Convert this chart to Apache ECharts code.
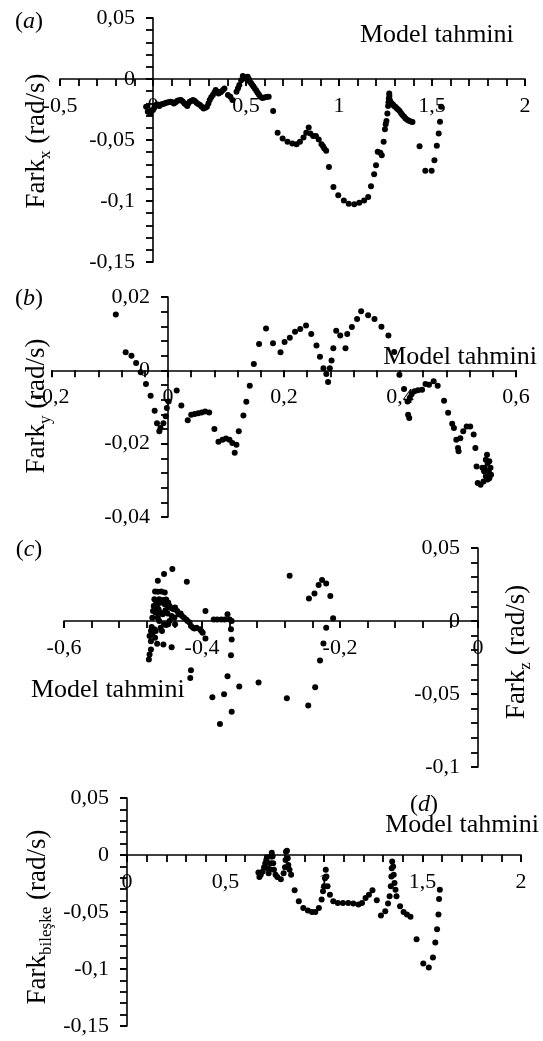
<!DOCTYPE html>
<html>
<head>
<meta charset="utf-8">
<script src="https://cdn.jsdelivr.net/npm/echarts@6/dist/echarts.min.js"></script>
<style>
  html, body { margin: 0; padding: 0; background: #fff; }
  #chart { width: 543px; height: 1041px; }
</style>
</head>
<body>
<div id="chart"></div>
<script>
// panel (a): model tahmini vs Fark_x
const pointsA = [
  [-0.037, -0.0227], [-0.028, -0.0268], [-0.015, -0.0282], [-0.008, -0.026], [0.0, -0.0255],
  [0.008, -0.023], [0.015, -0.0214], [0.025, -0.021], [0.034, -0.0222], [0.043, -0.021],
  [0.052, -0.0205], [0.062, -0.02], [0.071, -0.0195], [0.082, -0.019], [0.094, -0.0186],
  [0.103, -0.019], [0.112, -0.02], [0.122, -0.019], [0.131, -0.0178], [0.14, -0.0175],
  [0.15, -0.0173], [0.16, -0.0185], [0.169, -0.02], [0.177, -0.021], [0.184, -0.0222],
  [0.19, -0.02], [0.197, -0.0186], [0.206, -0.018], [0.215, -0.0173], [0.225, -0.018],
  [0.234, -0.0195], [0.243, -0.0205], [0.253, -0.0214], [0.262, -0.0228], [0.272, -0.0241],
  [0.281, -0.0235], [0.29, -0.0227], [0.298, -0.02], [0.305, -0.0173], [0.313, -0.015],
  [0.322, -0.0132], [0.33, -0.011], [0.337, -0.009], [0.345, -0.0105], [0.352, -0.0118],
  [0.36, -0.011], [0.367, -0.0104], [0.376, -0.009], [0.384, -0.0077], [0.403, -0.0132],
  [0.416, -0.0145], [0.427, -0.0173], [0.449, -0.0104], [0.457, -0.0075], [0.464, -0.0049],
  [0.474, -0.001], [0.483, 0.0025], [0.49, 0.001], [0.496, 0.0005], [0.503, 0.0015],
  [0.509, 0.0019], [0.515, 0.0], [0.521, -0.0022], [0.528, -0.0035], [0.534, -0.0049],
  [0.54, -0.0062], [0.547, -0.0077], [0.555, -0.0095], [0.562, -0.0112], [0.57, -0.013],
  [0.577, -0.0145], [0.588, -0.0155], [0.599, -0.0151], [0.61, -0.0148], [0.622, -0.0145],
  [0.646, -0.0263], [0.67, -0.0441], [0.697, -0.0488], [0.723, -0.0515], [0.749, -0.0529],
  [0.772, -0.0534], [0.79, -0.0515], [0.809, -0.0479], [0.824, -0.0441], [0.837, -0.0397],
  [0.846, -0.0447], [0.861, -0.0468], [0.876, -0.0468], [0.891, -0.0496], [0.906, -0.0534],
  [0.914, -0.0552], [0.921, -0.057], [0.931, -0.0589], [0.946, -0.0721], [0.97, -0.0885],
  [0.996, -0.0953], [1.026, -0.0995], [1.052, -0.1022], [1.082, -0.1027], [1.109, -0.1014],
  [1.135, -0.0995], [1.157, -0.0967], [1.172, -0.0879], [1.189, -0.0781], [1.199, -0.0707],
  [1.208, -0.0597], [1.222, -0.0605], [1.23, -0.0625], [1.24, -0.0515], [1.247, -0.0411],
  [1.251, -0.037], [1.255, -0.0345], [1.26, -0.0282], [1.264, -0.0222], [1.266, -0.019],
  [1.268, -0.0159], [1.27, -0.0118], [1.271, -0.014], [1.273, -0.0173], [1.278, -0.019],
  [1.283, -0.02], [1.29, -0.021], [1.296, -0.0222], [1.304, -0.023], [1.311, -0.0241],
  [1.318, -0.025], [1.326, -0.0263], [1.334, -0.028], [1.341, -0.0296], [1.35, -0.031],
  [1.358, -0.0323], [1.367, -0.0335], [1.376, -0.0342], [1.386, -0.0348], [1.395, -0.0353],
  [1.433, -0.0551], [1.464, -0.0753], [1.498, -0.0753], [1.513, -0.0666], [1.526, -0.0548],
  [1.536, -0.0447], [1.543, -0.0351], [1.549, -0.0227]
];

// panel (b): model tahmini vs Fark_y
const pointsB = [
  [-0.09, 0.0152], [-0.073, 0.0049], [-0.063, 0.004], [-0.055, 0.002], [-0.047, -0.0005],
  [-0.038, -0.0037], [-0.03, -0.0069], [-0.023, -0.011], [-0.019, -0.0144], [-0.015, -0.0166],
  [-0.013, -0.0157], [-0.008, -0.0144], [-0.004, -0.0125], [-0.002, -0.0103], [0.001, -0.0085],
  [0.015, -0.0055], [0.023, -0.0096], [0.034, -0.0136], [0.04, -0.0121], [0.046, -0.0119],
  [0.052, -0.0117], [0.058, -0.0115], [0.064, -0.0112], [0.071, -0.0115], [0.08, -0.016],
  [0.087, -0.0195], [0.094, -0.0189], [0.1, -0.0186], [0.106, -0.0189], [0.111, -0.0198],
  [0.115, -0.0225], [0.118, -0.0203], [0.122, -0.0166], [0.13, -0.0123], [0.135, -0.0086],
  [0.141, -0.0042], [0.148, 0.0017], [0.157, 0.0072], [0.169, 0.0114], [0.181, 0.0074],
  [0.194, 0.0049], [0.201, 0.0077], [0.21, 0.0089], [0.219, 0.0105], [0.228, 0.0113],
  [0.238, 0.0122], [0.247, 0.0099], [0.256, 0.0068], [0.262, 0.0037], [0.268, 0.0006],
  [0.273, -0.001], [0.276, -0.0032], [0.279, 0.0006], [0.282, 0.0027], [0.285, 0.006],
  [0.29, 0.0108], [0.297, 0.0095], [0.306, 0.006], [0.309, 0.0099], [0.317, 0.0118],
  [0.326, 0.014], [0.333, 0.0161], [0.345, 0.015], [0.356, 0.014], [0.368, 0.0119],
  [0.38, 0.0095], [0.39, 0.005], [0.399, -0.0012], [0.407, -0.0051], [0.413, -0.0085],
  [0.414, -0.0121], [0.416, -0.013], [0.417, -0.0075], [0.42, -0.0065], [0.425, -0.0057],
  [0.431, -0.0054], [0.438, -0.0053], [0.444, -0.0037], [0.45, -0.0039], [0.458, -0.003],
  [0.465, -0.0042], [0.476, -0.0083], [0.483, -0.0116], [0.49, -0.0146], [0.493, -0.0157],
  [0.497, -0.0189], [0.5, -0.0212], [0.501, -0.0221], [0.504, -0.0185], [0.509, -0.0166],
  [0.515, -0.0153], [0.521, -0.0153], [0.527, -0.0175], [0.53, -0.0212], [0.532, -0.0262],
  [0.534, -0.0307], [0.539, -0.0312], [0.544, -0.0303], [0.546, -0.0266], [0.548, -0.0244],
  [0.55, -0.023], [0.551, -0.0253], [0.553, -0.0275], [0.554, -0.0294], [0.557, -0.0285],
  [0.548, -0.0289], [0.545, -0.0275], [0.542, -0.0266], [0.551, -0.0298], [0.556, -0.0266],
  [0.554, -0.0248]
];

// panel (c): model tahmini vs Fark_z
const pointsC = [
  [-0.477, -0.0264], [-0.476, -0.023], [-0.474, -0.0195], [-0.474, -0.0138], [-0.476, -0.0103],
  [-0.474, -0.0069], [-0.473, -0.0041], [-0.472, 0.0023], [-0.471, 0.0069], [-0.47, 0.0103],
  [-0.469, 0.0149], [-0.468, 0.0202], [-0.464, 0.0276], [-0.455, 0.0322], [-0.443, 0.0356],
  [-0.422, 0.0269], [-0.464, 0.02], [-0.459, 0.0202], [-0.454, 0.0195], [-0.467, 0.0138],
  [-0.464, 0.0115], [-0.462, 0.0149], [-0.459, 0.0126], [-0.457, 0.0143], [-0.454, 0.0115],
  [-0.452, 0.0147], [-0.449, 0.0126], [-0.447, 0.0103], [-0.444, 0.0087], [-0.441, 0.008],
  [-0.439, 0.0092], [-0.436, 0.0069], [-0.434, 0.0046], [-0.431, 0.0051], [-0.429, 0.0034],
  [-0.426, 0.0023], [-0.423, 0.0011], [-0.421, 0.0], [-0.418, -0.0011], [-0.416, -0.0034],
  [-0.413, -0.0046], [-0.411, -0.0051], [-0.408, -0.0046], [-0.403, -0.0057], [-0.401, -0.0069],
  [-0.399, -0.008], [-0.395, -0.012], [-0.395, 0.0069], [-0.464, 0.0023], [-0.462, 0.0],
  [-0.46, -0.0046], [-0.458, -0.0069], [-0.455, -0.0023], [-0.452, -0.0028], [-0.449, -0.0023],
  [-0.447, 0.0], [-0.467, -0.0069], [-0.468, -0.0115], [-0.465, -0.0156], [-0.456, -0.0161],
  [-0.444, -0.0179], [-0.439, -0.0023], [-0.468, 0.008], [-0.467, 0.0057], [-0.463, 0.008],
  [-0.46, 0.0057], [-0.457, 0.0046], [-0.453, 0.0074], [-0.45, 0.0051], [-0.472, -0.0092],
  [-0.469, -0.0057], [-0.449, 0.0092], [-0.444, 0.0034], [-0.44, 0.0023],
  [-0.383, 0.0011], [-0.378, 0.0011], [-0.372, 0.0011], [-0.367, 0.0011], [-0.363, 0.0046],
  [-0.36, 0.0011], [-0.357, 0.0], [-0.358, -0.0057], [-0.357, -0.0126], [-0.358, -0.0234],
  [-0.357, -0.0621], [-0.363, -0.0379], [-0.368, -0.0501], [-0.374, -0.0706], [-0.385, -0.0522],
  [-0.416, -0.0338], [-0.417, -0.0391], [-0.346, -0.0448], [-0.318, -0.0421], [-0.277, -0.0529],
  [-0.273, 0.031], [-0.246, -0.0579], [-0.236, -0.0453], [-0.229, -0.0271], [-0.224, -0.0154],
  [-0.22, -0.0046], [-0.21, 0.0018], [-0.214, 0.0172], [-0.22, 0.0257], [-0.226, 0.028],
  [-0.231, 0.0246], [-0.237, 0.0189], [-0.245, 0.0154]
];

// panel (d): model tahmini vs Fark_bileske
const pointsD = [
  [0.667, -0.0154], [0.672, -0.0194], [0.679, -0.0174], [0.689, -0.0145], [0.696, -0.0107],
  [0.702, -0.0072], [0.707, -0.0043], [0.711, -0.002], [0.714, -0.0116], [0.719, -0.0159],
  [0.725, -0.0125], [0.728, -0.0072], [0.732, -0.0014], [0.735, 0.002], [0.739, -0.0014],
  [0.742, -0.0072], [0.746, -0.013], [0.754, -0.0174], [0.763, -0.0194], [0.781, -0.0212],
  [0.795, -0.0159], [0.802, -0.0107], [0.805, -0.0043], [0.807, 0.0029], [0.812, 0.0038],
  [0.816, -0.0029], [0.819, -0.0087], [0.825, -0.013], [0.833, -0.0174], [0.851, -0.031],
  [0.872, -0.0406], [0.895, -0.0464], [0.918, -0.0487], [0.939, -0.0499], [0.956, -0.0499],
  [0.974, -0.0464], [0.988, -0.0391], [0.995, -0.0319], [1.0, -0.0275], [1.005, -0.0203],
  [1.009, -0.013], [1.012, -0.0188], [1.018, -0.0275], [1.03, -0.0348], [1.047, -0.0406],
  [1.07, -0.042], [1.096, -0.042], [1.123, -0.042], [1.149, -0.0426], [1.175, -0.0435],
  [1.193, -0.042], [1.211, -0.0377], [1.228, -0.0348], [1.246, -0.031], [1.268, -0.0397],
  [1.289, -0.053], [1.311, -0.0493], [1.325, -0.0426], [1.333, -0.0362], [1.339, -0.0275],
  [1.342, -0.0188], [1.344, -0.0116], [1.346, -0.0058], [1.351, -0.0101], [1.354, -0.0174],
  [1.358, -0.0246], [1.363, -0.0304], [1.368, -0.0362], [1.386, -0.0449], [1.404, -0.0499],
  [1.421, -0.0522], [1.439, -0.0542], [1.47, -0.0739], [1.504, -0.0951], [1.532, -0.0986],
  [1.553, -0.0899], [1.565, -0.0768], [1.574, -0.0652], [1.581, -0.0522], [1.584, -0.0386],
  [1.588, -0.0304]
];

const FONT = "'Liberation Serif', 'Times New Roman', serif";
const fmt = v => String(Math.round(v * 1000) / 1000).replace('.', ',');

const grids = [
  { left: 60, top: 18, width: 465, height: 244 },
  { left: 52, top: 297, width: 464, height: 220 },
  { left: 64, top: 548, width: 414, height: 219 },
  { left: 127, top: 798, width: 394, height: 228 }
];
const xRanges = [[-0.5, 2, 0.5], [-0.2, 0.6, 0.2], [-0.6, 0, 0.2], [0, 2, 0.5]];
const yRanges = [[-0.15, 0.05, 0.05], [-0.04, 0.02, 0.02], [-0.1, 0.05, 0.05], [-0.15, 0.05, 0.05]];

const axisLineStyle = () => ({ color: '#000', width: 1.6 });
const tickOpt = () => ({ show: true, inside: false, length: 7, lineStyle: { color: '#000', width: 2 } });
const minorOpt = () => ({ show: true, splitNumber: 5, length: 7, lineStyle: { color: '#000', width: 1.8 } });
const labelOpt = margin => ({
  formatter: fmt, color: '#000', fontFamily: FONT, fontSize: 22, margin: margin,
  showMinLabel: true, showMaxLabel: true
});

// x axes: line shifted up to y = 0 with offset
const xAxis = xRanges.map((r, i) => {
  const yr = yRanges[i];
  return {
    type: 'value', gridIndex: i, min: r[0], max: r[1], interval: r[2], position: 'bottom',
    offset: -grids[i].height * (0 - yr[0]) / (yr[1] - yr[0]),
    axisLine: { show: true, onZero: false, lineStyle: axisLineStyle() },
    axisTick: tickOpt(), minorTick: minorOpt(), splitLine: { show: false },
    axisLabel: labelOpt(16)
  };
});
// y axes: line sits on x = 0, labels pulled from the grid edge to that line
const yAxis = yRanges.map((r, i) => {
  const xr = xRanges[i];
  const shift = grids[i].width * (0 - xr[0]) / (xr[1] - xr[0]);
  return {
    type: 'value', gridIndex: i, min: r[0], max: r[1], interval: r[2], position: 'left',
    axisLine: { show: true, onZero: true, onZeroAxisIndex: i, lineStyle: axisLineStyle() },
    axisTick: tickOpt(), minorTick: minorOpt(), splitLine: { show: false },
    axisLabel: labelOpt(18 - shift)
  };
});

const series = [pointsA, pointsB, pointsC, pointsD].map((d, i) => ({
  type: 'scatter', xAxisIndex: i, yAxisIndex: i, data: d,
  symbolSize: 6, itemStyle: { color: '#000', opacity: 1 }, silent: true
}));

const titleRich = {
  m: { fontFamily: FONT, fontSize: 27, lineHeight: 34, fill: '#000' },
  s: { fontFamily: FONT, fontSize: 17, lineHeight: 17, verticalAlign: 'bottom', fill: '#000' }
};
const letterRich = {
  m: { fontFamily: FONT, fontSize: 24, fill: '#000' },
  i: { fontFamily: FONT, fontSize: 24, fontStyle: 'italic', fill: '#000' }
};

function axisTitle(x, y, sub) {
  return {
    type: 'text', x: x, y: y, rotation: Math.PI / 2, silent: true,
    style: { text: '{m|Fark}{s|' + sub + '}{m| (rad/s)}', rich: titleRich, align: 'center', verticalAlign: 'middle' }
  };
}
function panelLetter(x, y, ch) {
  return {
    type: 'text', x: x, y: y, silent: true,
    style: { text: '{m|(}{i|' + ch + '}{m|)}', rich: letterRich, align: 'center', verticalAlign: 'middle' }
  };
}
function modelText(x, y, align) {
  return {
    type: 'text', x: x, y: y, silent: true,
    style: { text: 'Model tahmini', fontFamily: FONT, fontSize: 26, fill: '#000', align: align, verticalAlign: 'middle' }
  };
}

const chart = echarts.init(document.getElementById('chart'), null, { renderer: 'canvas' });
chart.setOption({
  animation: false,
  backgroundColor: '#fff',
  grid: grids,
  xAxis: xAxis,
  yAxis: yAxis,
  series: series,
  graphic: [
    axisTitle(37, 141, 'x'),
    axisTitle(37, 406, 'y'),
    axisTitle(517, 652, 'z'),
    axisTitle(38, 917, 'bileşke'),
    panelLetter(29, 22, 'a'),
    panelLetter(29, 299, 'b'),
    panelLetter(29, 550, 'c'),
    panelLetter(424, 805, 'd'),
    modelText(360, 35, 'left'),
    modelText(537, 357, 'right'),
    modelText(31, 690, 'left'),
    modelText(539, 825, 'right')
  ]
});
</script>
</body>
</html>
